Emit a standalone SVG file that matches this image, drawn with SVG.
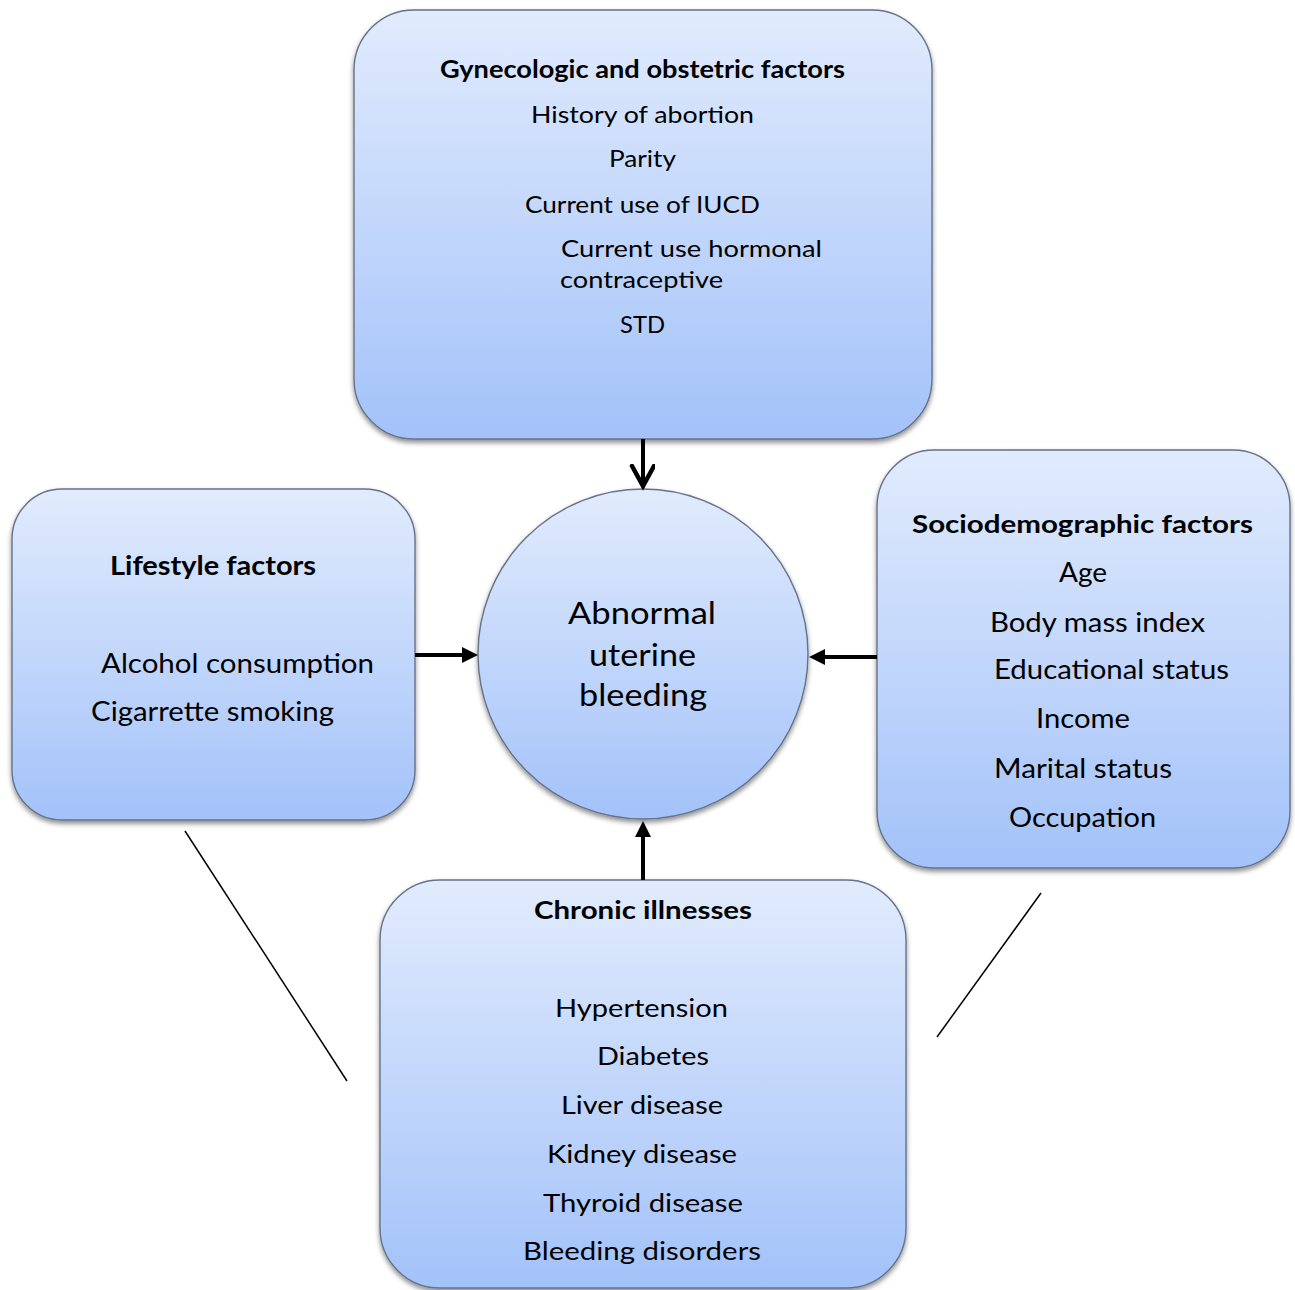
<svg xmlns="http://www.w3.org/2000/svg" width="1295" height="1290" viewBox="0 0 1295 1290">
<defs>
<linearGradient id="fillGrad" x1="0" y1="0" x2="0" y2="1">
<stop offset="0" stop-color="#e1ebfd"/>
<stop offset="1" stop-color="#a3c2f9"/>
</linearGradient>
<filter id="shadow" x="-10%" y="-10%" width="120%" height="120%">
<feDropShadow dx="0" dy="3" stdDeviation="2.5" flood-color="#000" flood-opacity="0.45"/>
</filter>
<marker id="solidHead" markerUnits="userSpaceOnUse" markerWidth="16" markerHeight="16" refX="8" refY="8" orient="auto">
<path d="M0,0 L16,8 L0,16 z" fill="#000"/>
</marker>
<marker id="openHead" markerUnits="userSpaceOnUse" markerWidth="30" markerHeight="30" refX="22" refY="12" orient="auto">
<path d="M2,1 L22,12 L2,23" fill="none" stroke="#000" stroke-width="4.5" stroke-linecap="round" stroke-linejoin="miter"/>
</marker>
</defs>
<style>
.box{fill:url(#fillGrad);stroke:#66728a;stroke-width:1.4;filter:url(#shadow);}
.t{font-family:Lato,"Open Sans","Liberation Sans",sans-serif;fill:#000;}
.b{font-weight:bold;}
.conn{stroke:#000;stroke-width:4;fill:none;}
.thin{stroke:#000;stroke-width:1.5;fill:none;}
</style>
<rect width="1295" height="1290" fill="#fff"/>

<g id="node-gynecologic">
<rect class="box" x="354" y="10" width="578" height="429" rx="60" ry="60"/>
<text class="t b" x="440" y="78" font-size="24" textLength="405" lengthAdjust="spacingAndGlyphs">Gynecologic and obstetric factors</text>
<text class="t" x="531" y="123" font-size="24" textLength="223" lengthAdjust="spacingAndGlyphs">History of abortion</text>
<text class="t" x="609" y="167" font-size="24" textLength="67" lengthAdjust="spacingAndGlyphs">Parity</text>
<text class="t" x="525" y="213" font-size="24" textLength="235" lengthAdjust="spacingAndGlyphs">Current use of IUCD</text>
<text class="t" x="561" y="257" font-size="24" textLength="261" lengthAdjust="spacingAndGlyphs">Current use hormonal</text>
<text class="t" x="560" y="288" font-size="24" textLength="163" lengthAdjust="spacingAndGlyphs">contraceptive</text>
<text class="t" x="620" y="333" font-size="24" textLength="45" lengthAdjust="spacingAndGlyphs">STD</text>
</g>

<g id="node-lifestyle">
<rect class="box" x="12" y="489" width="403" height="331" rx="50" ry="50"/>
<text class="t b" x="110" y="575" font-size="26" textLength="206" lengthAdjust="spacingAndGlyphs">Lifestyle factors</text>
<text class="t" x="101" y="673" font-size="26" textLength="273" lengthAdjust="spacingAndGlyphs">Alcohol consumption</text>
<text class="t" x="91" y="721" font-size="26" textLength="243" lengthAdjust="spacingAndGlyphs">Cigarrette smoking</text>
</g>

<g id="node-sociodemographic">
<rect class="box" x="877" y="450" width="413" height="418" rx="57" ry="57"/>
<text class="t b" x="912" y="533" font-size="25.5" textLength="341" lengthAdjust="spacingAndGlyphs">Sociodemographic factors</text>
<text class="t" x="1059" y="582" font-size="26" textLength="48" lengthAdjust="spacingAndGlyphs">Age</text>
<text class="t" x="990" y="632" font-size="26" textLength="215" lengthAdjust="spacingAndGlyphs">Body mass index</text>
<text class="t" x="994" y="679" font-size="26" textLength="235" lengthAdjust="spacingAndGlyphs">Educational status</text>
<text class="t" x="1036" y="728" font-size="26" textLength="94" lengthAdjust="spacingAndGlyphs">Income</text>
<text class="t" x="994" y="778" font-size="26" textLength="178" lengthAdjust="spacingAndGlyphs">Marital status</text>
<text class="t" x="1009" y="827" font-size="26" textLength="147" lengthAdjust="spacingAndGlyphs">Occupation</text>
</g>

<g id="node-chronic">
<rect class="box" x="380" y="880" width="526" height="408" rx="60" ry="60"/>
<text class="t b" x="534" y="919" font-size="25" textLength="218" lengthAdjust="spacingAndGlyphs">Chronic illnesses</text>
<text class="t" x="555" y="1017" font-size="25" textLength="173" lengthAdjust="spacingAndGlyphs">Hypertension</text>
<text class="t" x="597" y="1065" font-size="25" textLength="112" lengthAdjust="spacingAndGlyphs">Diabetes</text>
<text class="t" x="561" y="1114" font-size="25" textLength="162" lengthAdjust="spacingAndGlyphs">Liver disease</text>
<text class="t" x="547" y="1163" font-size="25" textLength="190" lengthAdjust="spacingAndGlyphs">Kidney disease</text>
<text class="t" x="543" y="1212" font-size="25" textLength="200" lengthAdjust="spacingAndGlyphs">Thyroid disease</text>
<text class="t" x="523" y="1260" font-size="25" textLength="238" lengthAdjust="spacingAndGlyphs">Bleeding disorders</text>
</g>

<g id="node-aub">
<circle class="box" cx="643" cy="654" r="165"/>
<text class="t" x="568" y="624" font-size="31" textLength="148" lengthAdjust="spacingAndGlyphs">Abnormal</text>
<text class="t" x="589" y="666" font-size="31" textLength="107" lengthAdjust="spacingAndGlyphs">uterine</text>
<text class="t" x="579" y="706" font-size="31" textLength="128" lengthAdjust="spacingAndGlyphs">bleeding</text>
</g>

<g id="connectors">
<line class="conn" x1="643" y1="439" x2="643" y2="486" marker-end="url(#openHead)"/>
<line class="conn" x1="415" y1="655" x2="470" y2="655" marker-end="url(#solidHead)"/>
<line class="conn" x1="877" y1="657" x2="817" y2="657" marker-end="url(#solidHead)"/>
<line class="conn" x1="643" y1="880" x2="643" y2="829" marker-end="url(#solidHead)"/>
<line class="thin" x1="185" y1="831" x2="347" y2="1081"/>
<line class="thin" x1="1041" y1="893" x2="937" y2="1037"/>
</g>
</svg>
